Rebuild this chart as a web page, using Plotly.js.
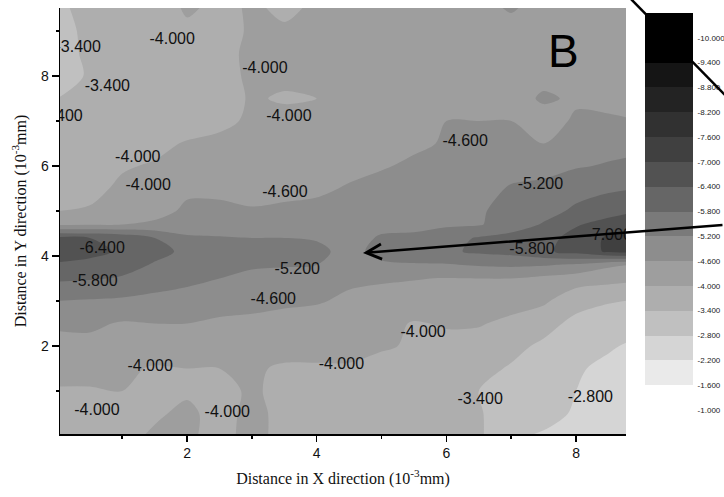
<!DOCTYPE html>
<html><head><meta charset="utf-8">
<script src="https://cdn.plot.ly/plotly-3.0.1.min.js"></script>
<style>html,body{margin:0;padding:0;background:#fff;overflow:hidden}#chart{width:724px;height:497px}</style>
</head><body><div id="chart"></div>
<script>
// grid positions (10^-3 mm)
const xGrid = [0,0.5,1,1.5,2,2.5,3,3.5,4,4.5,5,5.5,6,6.5,7,7.5,8,8.5,9];
const yGrid = [0,0.5,1,1.5,2,2.5,3,3.5,3.8,4.1,4.4,4.7,5,5.5,6,6.5,7,7.5,8,8.5,9,9.6];
// values, one row per yGrid entry
const zGrid = [
[-3.7,-3.7,-3.8,-4.1,-4.1,-3.8,-4.2,-3.8,-3.7,-3.7,-3.7,-3.7,-3.6,-3.5,-2.85,-2.75,-2.6,-2.5,-2.45],
[-3.7,-3.7,-3.85,-3.9,-4.15,-3.75,-4.2,-3.8,-3.7,-3.7,-3.7,-3.7,-3.6,-3.45,-3.1,-2.95,-2.75,-2.6,-2.5],
[-3.95,-3.95,-4.0,-3.85,-3.9,-3.8,-4.1,-3.8,-3.75,-3.75,-3.7,-3.65,-3.55,-3.4,-3.2,-3.0,-2.8,-2.6,-2.5],
[-4.2,-4.2,-4.1,-3.95,-4.0,-4.0,-4.05,-3.95,-3.95,-3.95,-3.85,-3.8,-3.7,-3.55,-3.35,-3.15,-2.85,-2.7,-2.6],
[-4.4,-4.45,-4.35,-4.3,-4.3,-4.2,-4.2,-4.15,-4.15,-4.15,-4.05,-3.95,-3.85,-3.75,-3.55,-3.3,-3.1,-2.85,-2.7],
[-4.7,-4.7,-4.55,-4.6,-4.6,-4.5,-4.45,-4.4,-4.35,-4.3,-4.2,-3.95,-4.05,-4.05,-3.85,-3.6,-3.25,-3.05,-2.95],
[-5.2,-5.15,-5.1,-5.0,-4.95,-4.85,-4.8,-4.7,-4.65,-4.5,-4.45,-4.4,-4.35,-4.3,-4.25,-4.1,-3.6,-3.45,-3.35],
[-5.9,-5.85,-5.75,-5.55,-5.35,-5.2,-5.0,-4.95,-4.9,-4.7,-4.65,-4.62,-4.58,-4.6,-4.6,-4.45,-4.3,-4.2,-4.1],
[-6.3,-6.2,-6.0,-5.75,-5.5,-5.4,-5.3,-5.25,-5.2,-4.9,-5.1,-5.15,-5.15,-5.25,-5.3,-5.25,-5.1,-4.7,-4.55],
[-6.8,-6.6,-6.3,-5.95,-5.7,-5.6,-5.5,-5.45,-5.35,-5.0,-5.4,-5.5,-5.7,-5.9,-6.0,-6.3,-6.6,-7.1,-7.3],
[-6.5,-6.4,-6.2,-5.8,-5.3,-5.25,-5.2,-5.2,-5.15,-4.85,-5.3,-5.35,-5.6,-5.85,-6.0,-6.2,-6.6,-7.1,-7.25],
[-4.5,-4.55,-4.6,-4.7,-4.85,-4.85,-4.8,-4.75,-4.7,-4.6,-4.95,-5.0,-5.1,-5.15,-5.5,-5.85,-6.35,-6.6,-6.8],
[-4.0,-4.05,-4.2,-4.4,-4.7,-4.7,-4.65,-4.7,-4.75,-4.75,-4.9,-4.95,-5.0,-5.15,-5.35,-5.6,-5.9,-6.2,-6.4],
[-3.8,-3.85,-4.1,-4.3,-4.5,-4.5,-4.4,-4.45,-4.5,-4.65,-4.8,-4.85,-4.9,-5.0,-5.25,-5.35,-5.6,-5.7,-5.8],
[-3.7,-3.7,-3.95,-4.05,-4.2,-4.25,-4.3,-4.3,-4.3,-4.45,-4.55,-4.7,-4.8,-4.9,-5.0,-5.0,-5.15,-5.25,-5.3],
[-3.6,-3.65,-3.75,-3.85,-4.05,-4.15,-4.2,-4.2,-4.2,-4.25,-4.35,-4.5,-4.65,-4.7,-4.75,-4.6,-4.9,-5.0,-5.1],
[-3.5,-3.55,-3.6,-3.65,-3.7,-3.85,-4.1,-4.15,-4.15,-4.2,-4.25,-4.35,-4.6,-4.6,-4.6,-4.45,-4.65,-4.65,-4.6],
[-3.4,-3.5,-3.55,-3.6,-3.65,-3.8,-4.05,-3.95,-4.0,-4.15,-4.2,-4.25,-4.35,-4.4,-4.45,-4.65,-4.55,-4.5,-4.45],
[-3.2,-3.45,-3.55,-3.6,-3.65,-3.8,-4.1,-4.1,-4.1,-4.15,-4.2,-4.2,-4.25,-4.3,-4.35,-4.5,-4.4,-4.4,-4.4],
[-3.2,-3.5,-3.55,-3.6,-3.7,-3.85,-4.1,-4.1,-4.1,-4.15,-4.2,-4.2,-4.2,-4.25,-4.3,-4.3,-4.3,-4.3,-4.3],
[-3.25,-3.5,-3.55,-3.65,-3.9,-3.85,-4.05,-4.05,-4.1,-4.15,-4.2,-4.2,-4.2,-4.3,-4.4,-4.3,-4.25,-4.25,-4.3],
[-3.35,-3.5,-3.6,-3.7,-4.1,-3.9,-4.05,-3.9,-4.05,-4.15,-4.2,-4.2,-4.25,-4.45,-4.7,-4.4,-4.3,-4.3,-4.35]
];
// contour levels
const levelStart = -10, levelEnd = -1, levelStep = 0.6;
// gray for each band, from below -10 up to above -1
const bandColors = ['#000000','#000000','#151515','#232323','#313131','#404040','#525252','#666666','#7a7a7a','#8d8d8d','#9e9e9e','#aeaeae','#c0c0c0','#d5d5d5','#eaeaea','#ffffff','#ffffff'];
// colour bar blocks
const barEdges = [-10.6,-10,-9.4,-8.8,-8.2,-7.6,-7,-6.4,-5.8,-5.2,-4.6,-4,-3.4,-2.8,-2.2,-1.6,-1];
const barIndex = [0,1,2,3,4,5,6,7,8,9,10,11,12,13,14,15];
const barTicks = [-10,-9.4,-8.8,-8.2,-7.6,-7,-6.4,-5.8,-5.2,-4.6,-4,-3.4,-2.8,-2.2,-1.6,-1];
// contour labels
const labelX = [0.32,1.77,0.77,0.04,3.2,3.57,1.24,1.4,6.29,7.45,3.51,0.69,0.58,3.7,3.33,7.32,8.51,5.64,1.43,4.38,6.52,8.22,0.61,2.62];
const labelY = [8.62,8.8,7.76,7.09,8.16,7.09,6.18,5.56,6.53,5.58,5.4,4.16,3.42,3.69,3.02,4.13,4.44,2.29,1.53,1.58,0.8,0.84,0.56,0.51];
const labelValue = [-3.4,-4,-3.4,-3.4,-4,-4,-4,-4,-4.6,-5.2,-4.6,-6.4,-5.8,-5.2,-4.6,-5.8,-7,-4,-4,-4,-3.4,-2.8,-4,-4];

const nScale = bandColors.length - 1;
const colorscale = bandColors.map((c, i) => [i / nScale, c]);

const contour = {
  type: 'contour', x: xGrid, y: yGrid, z: zGrid,
  autocontour: false,
  contours: {start: levelStart, end: levelEnd, size: levelStep, coloring: 'fill', showlines: false},
  line: {width: 0, smoothing: 0.9},
  colorscale: colorscale, showscale: false, hoverinfo: 'skip',
  xaxis: 'x', yaxis: 'y'
};
const labels = {
  type: 'scatter', mode: 'text', x: labelX, y: labelY,
  text: labelValue.map(v => v.toFixed(3)),
  textfont: {family: 'Liberation Sans, Arial, sans-serif', size: 16, color: '#111'},
  cliponaxis: true, hoverinfo: 'skip', showlegend: false, xaxis: 'x', yaxis: 'y'
};
const bar = {
  type: 'heatmap', x: [0, 1], y: barEdges,
  z: barIndex.map(i => [i]), zmin: 0, zmax: nScale,
  colorscale: colorscale, showscale: false, hoverinfo: 'skip',
  xaxis: 'x2', yaxis: 'y2'
};

const axisFont = {family: 'Liberation Sans, Arial, sans-serif', size: 14, color: '#111'};
const titleFont = {family: 'Liberation Serif, Times New Roman, serif', size: 16, color: '#111'};

const layout = {
  width: 724, height: 497,
  margin: {l: 60, r: 0, t: 8, b: 63},
  paper_bgcolor: '#fff', plot_bgcolor: '#fff', showlegend: false,
  xaxis: {
    domain: [0, 0.85241], range: [0.04, 8.77], tick0: 0, dtick: 2,
    ticks: 'outside', ticklen: 6, tickwidth: 1.5, tickcolor: '#000',
    showline: true, linecolor: '#000', linewidth: 1.5, showgrid: false, zeroline: false,
    tickfont: axisFont, anchor: 'y',
    minor: {tick0: 0, dtick: 1, ticks: 'outside', ticklen: 3, tickwidth: 1.5, tickcolor: '#000', showgrid: false},
    title: {text: 'Distance in X direction (10<sup>-3</sup>mm)', font: titleFont, standoff: 12}
  },
  yaxis: {
    domain: [0, 1], range: [0.044, 9.51], tick0: 0, dtick: 2,
    ticks: 'outside', ticklen: 7, tickwidth: 1.5, tickcolor: '#000',
    showline: true, linecolor: '#000', linewidth: 1.5, showgrid: false, zeroline: false,
    tickfont: axisFont, anchor: 'x',
    minor: {tick0: 0, dtick: 1, ticks: 'outside', ticklen: 3, tickwidth: 1.5, tickcolor: '#000', showgrid: false},
    title: {text: 'Distance in Y direction (10<sup>-3</sup>mm)', font: titleFont, standoff: 10}
  },
  xaxis2: {domain: [0.88102, 0.95331], range: [0, 1], visible: false, anchor: 'y2', fixedrange: true},
  yaxis2: {
    domain: [0, 1], anchor: 'x2', range: [-0.414, -10.721], side: 'right',
    tickvals: barTicks, ticktext: barTicks.map(v => v.toFixed(3)),
    ticks: 'outside', ticklen: 2, tickcolor: 'rgba(0,0,0,0)',
    showline: false, showgrid: false, zeroline: false,
    tickfont: {family: 'Liberation Sans, Arial, sans-serif', size: 8, color: '#222'}
  },
  annotations: [
    {text: 'B', xref: 'paper', yref: 'paper', x: 0.759, y: 0.899, xanchor: 'center', yanchor: 'middle',
     showarrow: false, font: {family: 'Liberation Sans, Arial, sans-serif', size: 46, color: '#000'}},
    {text: '', xref: 'paper', yref: 'paper', x: 0.4563, y: 0.4249, showarrow: true,
     ax: 361, ay: -28, arrowhead: 5, arrowsize: 1.2, arrowwidth: 2.5, arrowcolor: '#000', standoff: 0}
  ],
  shapes: [
    {type: 'line', xref: 'paper', yref: 'paper', x0: 0.8554, y0: 1.0282, x1: 1.006, y1: 0.7887,
     line: {color: '#000', width: 2.5}}
  ]
};

Plotly.newPlot('chart', [contour, labels, bar], layout, {staticPlot: true, displayModeBar: false});
</script>
</body></html>
